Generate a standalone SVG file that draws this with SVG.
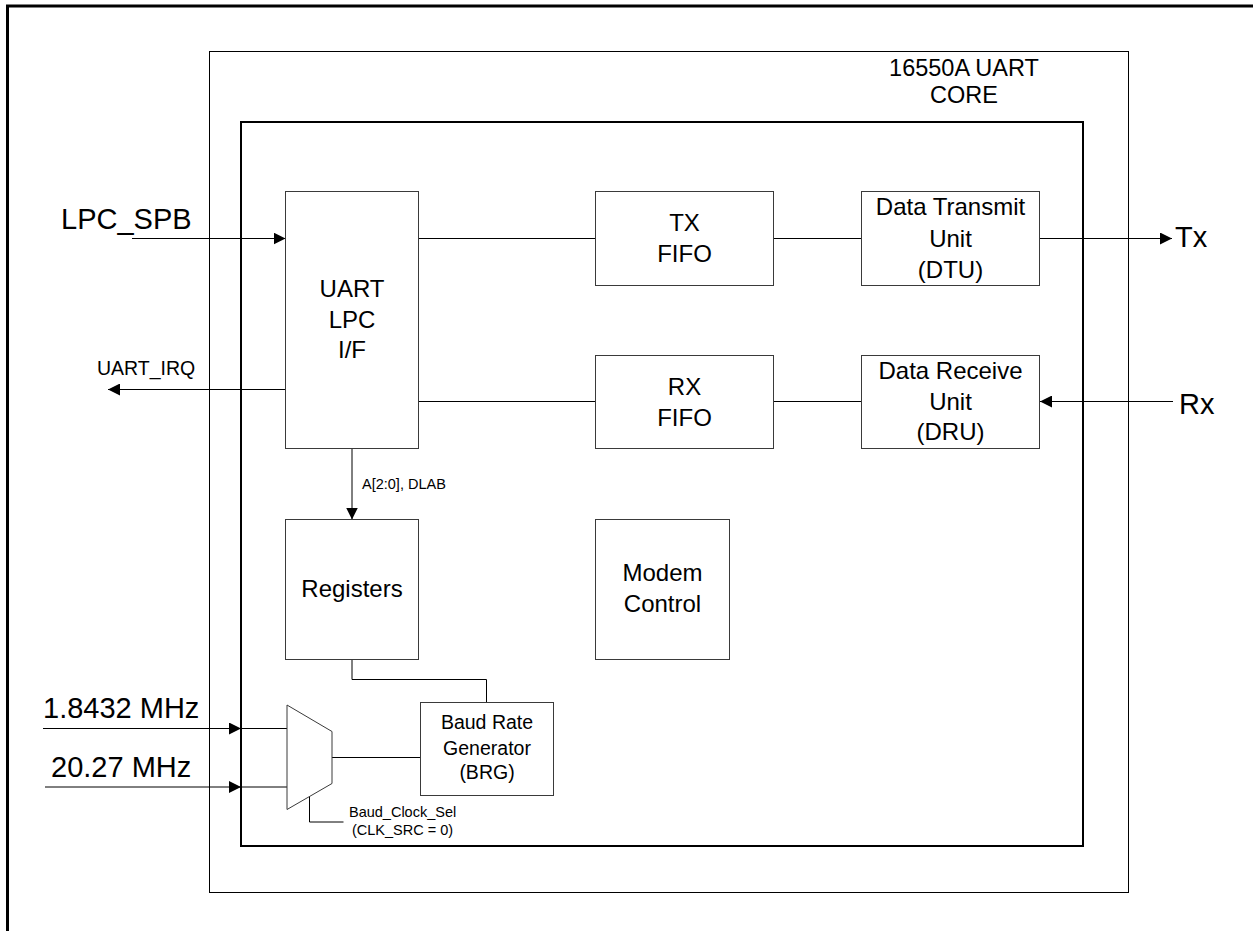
<svg xmlns="http://www.w3.org/2000/svg" width="1253" height="931" viewBox="0 0 1253 931">
<style>
  .box { fill: #ffffff; stroke: #3a3a3a; stroke-width: 1; }
  .frame { fill: none; stroke: #000000; }
  .wire { fill: none; stroke: #000000; stroke-width: 1; }
  text { font-family: "Liberation Sans", Arial, sans-serif; fill: #000000; }
  .t24 { font-size: 24px; text-anchor: middle; }
  .title { font-size: 23.5px; text-anchor: middle; }
  .t29 { font-size: 29px; }
  .t19 { font-size: 19.5px; }
  .t19m { font-size: 19.5px; text-anchor: middle; }
  .t14 { font-size: 14.5px; }
</style>
<defs>
  <marker id="arr" viewBox="0 0 12 12" refX="12" refY="6" markerWidth="12" markerHeight="12" markerUnits="userSpaceOnUse" orient="auto">
    <path d="M0,0 L12,6 L0,12 Z" fill="#000000"/>
  </marker>
</defs>
<rect width="1253" height="931" fill="#ffffff"/>

<g id="outer-frame">
  <path class="frame" d="M7.5,931 V6 H1253" stroke-width="3"/>
</g>

<g id="uart-core">
  <rect class="frame" x="209.5" y="51.5" width="919" height="841" stroke-width="1"/>
  <text class="title" x="964" y="76">16550A UART</text>
  <text class="title" x="964" y="102.5">CORE</text>
</g>

<g id="inner-block">
  <rect class="frame" x="241" y="122" width="842" height="724" stroke-width="2"/>
</g>

<g id="connectors">
  <line class="wire" x1="132" y1="238.5" x2="285.5" y2="238.5" marker-end="url(#arr)"/>
  <line class="wire" x1="418.5" y1="238.5" x2="595.5" y2="238.5"/>
  <line class="wire" x1="773.5" y1="238.5" x2="861.5" y2="238.5"/>
  <line class="wire" x1="1039.5" y1="238.5" x2="1172" y2="238.5" marker-end="url(#arr)"/>
  <line class="wire" x1="1173" y1="401.5" x2="1040" y2="401.5" marker-end="url(#arr)"/>
  <line class="wire" x1="861.5" y1="401.5" x2="773.5" y2="401.5"/>
  <line class="wire" x1="595.5" y1="401.5" x2="418.5" y2="401.5"/>
  <line class="wire" x1="285.5" y1="389.5" x2="108" y2="389.5" marker-end="url(#arr)"/>
  <line class="wire" x1="352" y1="448.5" x2="352" y2="519.5" marker-end="url(#arr)"/>
  <path class="wire" d="M352,659.5 V679.5 H486.5 V702.5"/>
  <line class="wire" x1="332" y1="757.5" x2="420.5" y2="757.5"/>
  <line class="wire" x1="43" y1="728.5" x2="241" y2="728.5" marker-end="url(#arr)"/>
  <line class="wire" x1="241" y1="728.5" x2="287" y2="728.5"/>
  <line class="wire" x1="45" y1="787" x2="241" y2="787" marker-end="url(#arr)"/>
  <line class="wire" x1="241" y1="787" x2="287" y2="787"/>
  <path class="wire" d="M309.5,796.5 V822 H343.5"/>
</g>

<g id="labels">
  <text class="t29" x="61" y="229">LPC_SPB</text>
  <text class="t19" x="97" y="375">UART_IRQ</text>
  <text class="t29" x="1175" y="247">Tx</text>
  <text class="t29" x="1179" y="414">Rx</text>
  <text class="t14" x="362" y="489">A[2:0], DLAB</text>
  <text class="t29" x="43" y="718">1.8432 MHz</text>
  <text class="t29" x="51" y="777">20.27 MHz</text>
  <text class="t14" x="349" y="817">Baud_Clock_Sel</text>
  <text class="t14" x="352" y="835">(CLK_SRC = 0)</text>
</g>

<g id="uart-lpc-if">
  <rect class="box" x="285.5" y="191.5" width="133" height="257"/>
  <text class="t24" x="352" y="297">UART</text>
  <text class="t24" x="352" y="328">LPC</text>
  <text class="t24" x="352" y="358">I/F</text>
</g>

<g id="tx-fifo">
  <rect class="box" x="595.5" y="191.5" width="178" height="94"/>
  <text class="t24" x="684.5" y="231">TX</text>
  <text class="t24" x="684.5" y="262">FIFO</text>
</g>

<g id="rx-fifo">
  <rect class="box" x="595.5" y="355.5" width="178" height="93"/>
  <text class="t24" x="684.5" y="394.5">RX</text>
  <text class="t24" x="684.5" y="425.5">FIFO</text>
</g>

<g id="dtu">
  <rect class="box" x="861.5" y="191.5" width="178" height="94"/>
  <text class="t24" x="950.5" y="215">Data Transmit</text>
  <text class="t24" x="950.5" y="246.5">Unit</text>
  <text class="t24" x="950.5" y="278">(DTU)</text>
</g>

<g id="dru">
  <rect class="box" x="861.5" y="355.5" width="178" height="93"/>
  <text class="t24" x="950.5" y="378.5">Data Receive</text>
  <text class="t24" x="950.5" y="410">Unit</text>
  <text class="t24" x="950.5" y="440">(DRU)</text>
</g>

<g id="registers">
  <rect class="box" x="285.5" y="519.5" width="133" height="140"/>
  <text class="t24" x="352" y="597">Registers</text>
</g>

<g id="modem-control">
  <rect class="box" x="595.5" y="519.5" width="134" height="140"/>
  <text class="t24" x="662.5" y="581">Modem</text>
  <text class="t24" x="662.5" y="612">Control</text>
</g>

<g id="brg">
  <rect class="box" x="420.5" y="702.5" width="133" height="93"/>
  <text class="t19m" x="487" y="729">Baud Rate</text>
  <text class="t19m" x="487" y="755">Generator</text>
  <text class="t19m" x="487" y="779">(BRG)</text>
</g>

<g id="clock-mux">
  <polygon class="box" points="287,705 332,731.5 332,783.5 287,809.5"/>
</g>
</svg>
